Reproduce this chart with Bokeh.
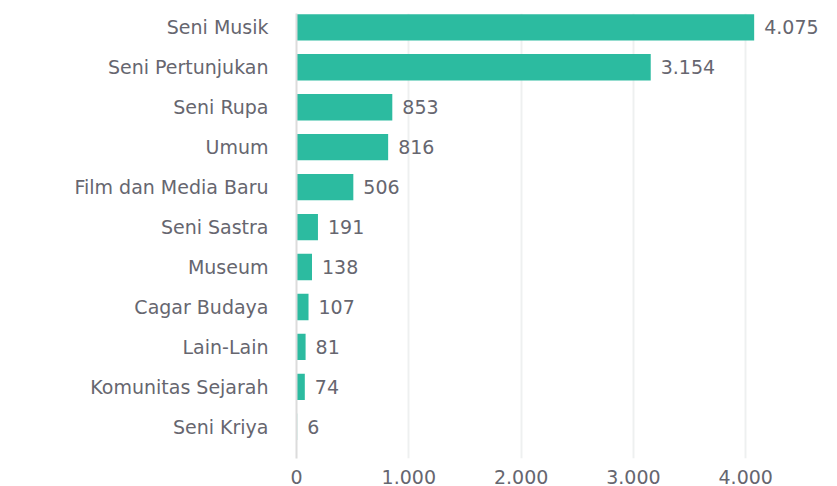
from bokeh.plotting import figure
from bokeh.models import Range1d, FixedTicker, ColumnDataSource
from bokeh.embed import file_html
from bokeh.resources import INLINE
from bokeh.core.properties import value

categories = ["Seni Musik", "Seni Pertunjukan", "Seni Rupa", "Umum", "Film dan Media Baru",
              "Seni Sastra", "Museum", "Cagar Budaya", "Lain-Lain", "Komunitas Sejarah", "Seni Kriya"]
counts = [4075, 3154, 853, 816, 506, 191, 138, 107, 81, 74, 6]
value_labels = ["4.075", "3.154", "853", "816", "506", "191", "138", "107", "81", "74", "6"]
x_ticks = [0, 1000, 2000, 3000, 4000]
x_tick_labels = ["0", "1.000", "2.000", "3.000", "4.000"]

FONT = "DejaVu Sans"
TEXT_COLOR = "#66666f"
BAR_COLOR = "#2cbba0"

pos = list(range(len(categories)))
src = ColumnDataSource(dict(pos=pos, count=counts, label=value_labels, cat=categories))

p = figure(width=837, height=486, output_backend="svg", toolbar_location=None,
           x_range=Range1d(0, 4817), y_range=Range1d(10.794, -0.347),
           min_border_left=296, min_border_right=0, min_border_top=13, min_border_bottom=24)
p.outline_line_color = None
p.background_fill_color = "white"
p.border_fill_color = "white"

p.hbar(y="pos", right="count", left=0, height=0.66, source=src,
       fill_color=BAR_COLOR, line_color=None)
p.text(x="count", y="pos", text="label", source=src, x_offset=10,
       text_align="left", text_baseline="middle", text_font=value(FONT),
       text_font_size="19px", text_color=TEXT_COLOR)

# x axis
p.xaxis.ticker = FixedTicker(ticks=x_ticks)
p.xaxis.major_label_overrides = {t: l for t, l in zip(x_ticks, x_tick_labels)}
p.xaxis.axis_line_color = None
p.xaxis.major_tick_line_color = None
p.xaxis.minor_tick_line_color = None
p.xaxis.major_label_standoff = 5
p.xaxis.major_label_text_font = FONT
p.xaxis.major_label_text_font_size = "19px"
p.xaxis.major_label_text_color = TEXT_COLOR

# y axis
p.yaxis.ticker = FixedTicker(ticks=pos)
p.yaxis.major_label_overrides = {i: c for i, c in zip(pos, categories)}
p.yaxis.axis_line_color = "#dcdcdc"
p.yaxis.axis_line_width = 2
p.yaxis.major_tick_line_color = None
p.yaxis.minor_tick_line_color = None
p.yaxis.major_label_standoff = 22
p.yaxis.major_label_text_font = FONT
p.yaxis.major_label_text_font_size = "19px"
p.yaxis.major_label_text_color = TEXT_COLOR

p.xgrid.grid_line_color = "#eef0f0"
p.xgrid.grid_line_width = 2
p.ygrid.grid_line_color = None

open("out.html", "w").write(file_html(p, INLINE))
